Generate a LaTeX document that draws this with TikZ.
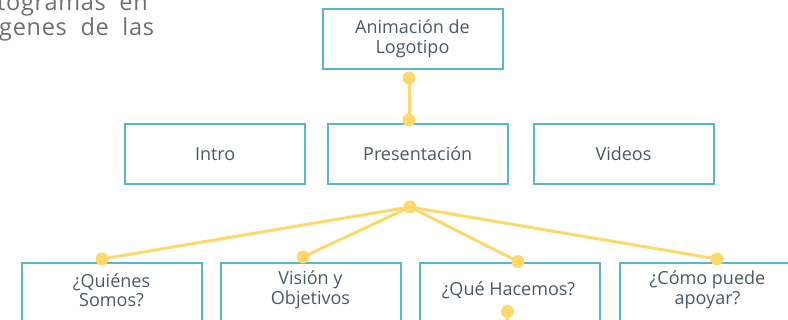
\documentclass[tikz,border=0pt]{standalone}
\usepackage{fontspec}
\setmainfont{Open Sans}
\newfontfamily\parrafo[LetterSpace=3,WordSpace=2]{Open Sans}
\usetikzlibrary{calc}
\definecolor{azulcaja}{HTML}{58B6CF}
\definecolor{amarillo}{HTML}{FDD86A}
\definecolor{textocaja}{HTML}{4A5964}
\definecolor{grisparrafo}{HTML}{6E6F72}
\tikzset{
	caja/.style={draw=azulcaja, line width=2pt, minimum width=180pt, minimum height=60pt, inner sep=0pt, text=textocaja, align=center, font=\fontsize{18}{20}\selectfont},
	hoja/.style={caja, anchor=north, minimum height=90pt},
	rotulo/.style={text=textocaja, align=center, inner sep=0pt, font=\fontsize{18}{19.5}\selectfont},
	punto/.style={circle, fill=amarillo, minimum size=13pt, inner sep=0pt},
	enlace/.style={draw=amarillo, line width=3pt},
}

\begin{document}
\begin{tikzpicture}[x=1pt, y=-1pt]
			%%%%% START %%%%%
			\useasboundingbox (0, 0) rectangle (788, 320);
			
			% trozo del parrafo cortado
			\node[anchor=base east, inner sep=0pt, text=grisparrafo, font=\parrafo\fontsize{23.5}{26}\selectfont] (linea1) at (148, 10.5) {otogramas en};
			\node[anchor=base west, inner sep=0pt, text=grisparrafo, font=\parrafo\fontsize{23.5}{26}\selectfont] (linea2) at (-1, 36) {genes de las};
			
			% cajas
			\node[caja] (logo) at (412.5, 39) {Animación de\\Logotipo};
			
			\node[caja] (intro) at (215.2, 153.8) {Intro};
			\node[caja] (presenta) at (417.7, 153.8) {Presentación};
			\node[caja] (videos) at (623.5, 153.8) {Videos};
			
			\node[hoja] (quienes) at (111.5, 262) {};
			\node[hoja] (vision) at (310.5, 262) {};
			\node[hoja] (hacemos) at (510, 262) {};
			\node[hoja] (apoyar) at (709.5, 262) {};
			
			\node[rotulo] (quienesT) at ($(quienes.north)+(0, 28)$) {¿Quiénes\\Somos?};
			\node[rotulo] (visionT) at ($(vision.north)+(0, 28)$) {Visión y\\Objetivos};
			\node[rotulo] (hacemosT) at ($(hacemos.north)+(-1.5, 28)$) {¿Qué Hacemos?};
			\node[rotulo] (apoyarT) at ($(apoyar.north)+(-2, 28)$) {¿Cómo puede\\apoyar?};
			
			% puntos
			\node[punto] (p1) at (409, 78) {};
			\node[punto] (p2) at (409, 120) {};
			\node[punto] (centro) at (410, 207) {};
			\node[punto] (pq) at (102, 259) {};
			\node[punto] (pv) at (303, 257) {};
			\node[punto] (ph) at (518, 261.5) {};
			\node[punto] (pa) at (717, 259) {};
			\node[punto] (pb) at (507.5, 311.5) {};
			\coordinate (abajo) at (507.5, 330);
			
			% enlaces
			\draw[enlace] (p1.center) -- (p2.center);
			\draw[enlace] (centro.center) -- (pq.center);
			\draw[enlace] (centro.center) -- (pv.center);
			\draw[enlace] (centro.center) -- (ph.center);
			\draw[enlace] (centro.center) -- (pa.center);
			\draw[enlace] (pb.center) -- (abajo);
			
			%%%%% END %%%%%
\end{tikzpicture}
\end{document}
